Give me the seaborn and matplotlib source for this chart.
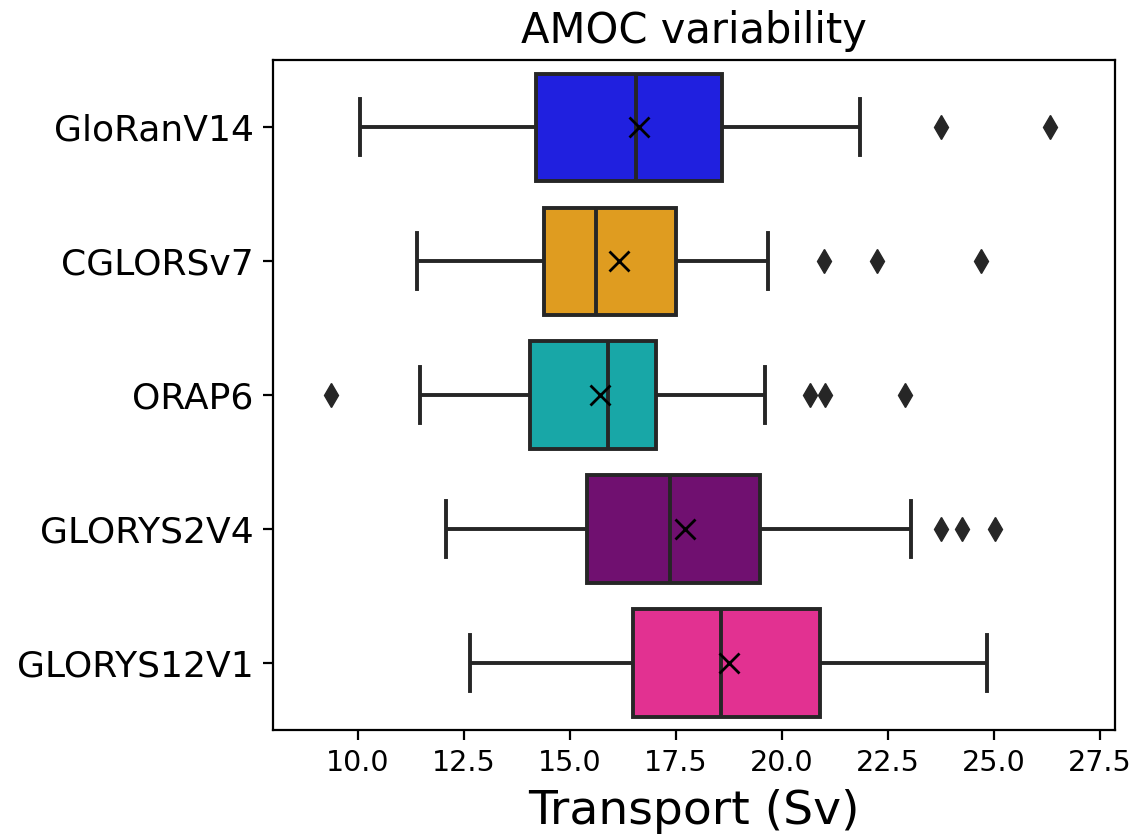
import matplotlib
matplotlib.use("Agg")
import matplotlib.pyplot as plt
import pandas as pd
import seaborn as sns

# models, top to bottom
models = ["GloRanV14", "CGLORSv7", "ORAP6", "GLORYS2V4", "GLORYS12V1"]
colors = ["blue", "orange", "c", "purple", "deeppink"]

# AMOC transport samples (Sv)
gloranv14 = [10.04, 10.5, 11.0, 11.6, 12.4, 14.19, 14.5, 14.9, 15.4, 16.0, 16.55,
             16.8, 17.2, 17.6, 18.1, 18.58, 20.6, 21.4, 21.83, 23.74, 26.31]
cglorsv7 = [11.39, 11.7, 12.1, 12.6, 13.4, 14.38, 14.45, 14.7, 15.0, 15.3, 15.61,
            15.7, 15.9, 16.3, 16.8, 17.51, 18.8, 19.68, 20.98, 22.24, 24.70]
orap6 = [9.37, 11.46, 11.9, 12.2, 12.7, 14.05, 14.1, 14.3, 14.6, 15.0, 15.90,
         15.95, 16.05, 16.2, 16.5, 17.04, 18.4, 19.60, 20.67, 21.02, 22.90]
glorys2v4 = [12.09, 12.3, 12.8, 13.5, 14.3, 15.41, 15.6, 15.9, 16.3, 16.8, 17.35,
             17.5, 17.8, 18.3, 18.9, 19.47, 21.5, 23.05, 23.74, 24.25, 25.01]
glorys12v1 = [12.65, 13.8, 14.7, 15.4, 16.0, 16.48, 16.9, 17.4, 17.9, 18.3, 18.56,
              18.9, 19.4, 19.9, 20.4, 20.89, 21.6, 22.4, 23.2, 24.0, 24.83]

series = [gloranv14, cglorsv7, orap6, glorys2v4, glorys12v1]
df = pd.concat(
    [pd.DataFrame({"Transport": vals, "Model": name}) for name, vals in zip(models, series)],
    ignore_index=True,
)

plt.rcParams["axes.linewidth"] = 1.6
plt.rcParams["xtick.major.size"] = 7
plt.rcParams["ytick.major.size"] = 7
plt.rcParams["xtick.major.width"] = 1.6
plt.rcParams["ytick.major.width"] = 1.6
plt.rcParams["xtick.major.pad"] = 7
plt.rcParams["ytick.major.pad"] = 7

fig = plt.figure(figsize=(11.3, 8.35), dpi=100)
ax = fig.add_axes([0.2416, 0.1257, 0.7451, 0.8023])

sns.boxplot(
    data=df,
    x="Transport",
    y="Model",
    hue="Model",
    order=models,
    hue_order=models,
    palette=colors,
    whis=1.0,
    linewidth=2.8,
    linecolor="0.15",
    showmeans=True,
    meanprops={"marker": "x", "markeredgecolor": "black", "markersize": 14,
               "markeredgewidth": 2},
    flierprops={"marker": "d", "markerfacecolor": "0.15", "markeredgecolor": "0.15",
                "markersize": 12},
    capwidths=0.42,
    legend=False,
    ax=ax,
)

ax.set_xlim(8.0, 27.85)
ax.set_xticks([10.0, 12.5, 15.0, 17.5, 20.0, 22.5, 25.0, 27.5])
ax.set_xticklabels(["10.0", "12.5", "15.0", "17.5", "20.0", "22.5", "25.0", "27.5"])
ax.tick_params(axis="x", labelsize=20.5)
ax.tick_params(axis="y", labelsize=26)
ax.set_ylabel("")
ax.set_xlabel("Transport (Sv)", fontsize=34, labelpad=8)
ax.set_title("AMOC variability", fontsize=30, pad=12)

fig.savefig("out.png", dpi=100)
plt.close(fig)
